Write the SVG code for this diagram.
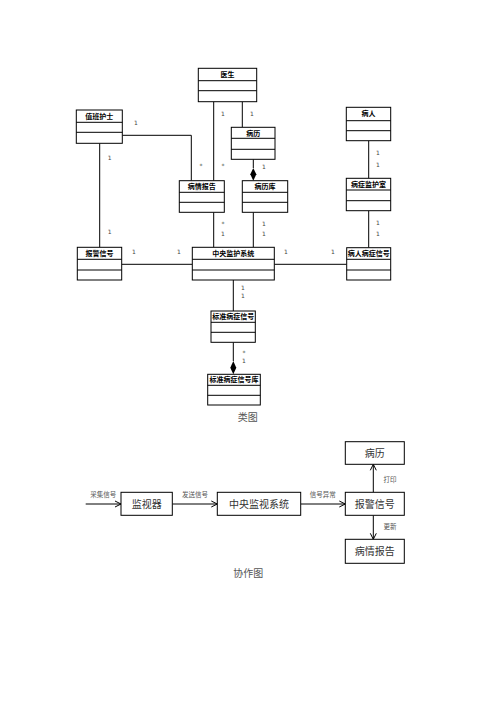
<svg xmlns="http://www.w3.org/2000/svg" width="496" height="702" viewBox="0 0 496 702">
<style>
.box{fill:#fff;stroke:#000;stroke-width:1}
.cl{stroke:#000;stroke-width:1;fill:none}
.t{font-family:"Noto Sans CJK SC",sans-serif;font-size:7px;font-weight:bold;fill:#000;text-anchor:middle}
.m{font-family:"DejaVu Sans",sans-serif;font-size:6px;fill:#444;text-anchor:middle}
.n{font-family:"Noto Sans CJK SC",sans-serif;font-size:10px;fill:#333;text-anchor:middle}
.s{font-family:"Noto Sans CJK SC",sans-serif;font-size:6.5px;fill:#555;text-anchor:middle}
.cap{font-family:"Noto Sans CJK SC",sans-serif;font-size:10px;fill:#555;text-anchor:middle}
</style>
<defs>
<marker id="arr" markerWidth="8" markerHeight="8" refX="7" refY="4" orient="auto" markerUnits="userSpaceOnUse">
<path d="M1,1 L7,4 L1,7" fill="none" stroke="#000" stroke-width="1"/>
</marker>
</defs>
<g id="connectors">
<path class="cl" d="M213.7,101.7 V180.7"/>
<path class="cl" d="M242.3,101.7 V127.3"/>
<path class="cl" d="M122.3,135.3 H191.3 V180.7"/>
<path class="cl" d="M99.7,143.3 V247.3"/>
<path class="cl" d="M253.3,159.3 V168"/>
<path d="M253.3,168 L256.3,174.3 L253.3,180.7 L250.3,174.3 Z" fill="#000"/>
<path class="cl" d="M368.7,140.7 V178.3"/>
<path class="cl" d="M213.7,212.3 V247.3"/>
<path class="cl" d="M253.3,212.3 V247.3"/>
<path class="cl" d="M368.7,210.7 V247.7"/>
<path class="cl" d="M121.7,264.3 H192.3"/>
<path class="cl" d="M274.3,264.3 H346.7"/>
<path class="cl" d="M233.3,280 V311"/>
<path class="cl" d="M233.3,342.3 V361"/>
<path d="M233.3,361 L236.3,367.7 L233.3,374.3 L230.3,367.7 Z" fill="#000"/>
<text class="m" x="223" y="116">1</text>
<text class="m" x="252" y="116">1</text>
<text class="m" x="136" y="125">1</text>
<text class="m" x="109.7" y="160">1</text>
<text class="m" x="201" y="168">*</text>
<text class="m" x="223" y="168">*</text>
<text class="m" x="264" y="169">1</text>
<text class="m" x="378" y="155">1</text>
<text class="m" x="378" y="167">1</text>
<text class="m" x="223" y="226">*</text>
<text class="m" x="223" y="236">1</text>
<text class="m" x="264" y="226">1</text>
<text class="m" x="264" y="236">1</text>
<text class="m" x="378" y="225">1</text>
<text class="m" x="378" y="236">1</text>
<text class="m" x="109.7" y="234">1</text>
<text class="m" x="134" y="254">1</text>
<text class="m" x="179" y="254">1</text>
<text class="m" x="286" y="254">1</text>
<text class="m" x="333" y="254">1</text>
<text class="m" x="243" y="290">1</text>
<text class="m" x="243" y="298">1</text>
<text class="m" x="244" y="355">*</text>
<text class="m" x="244" y="363">1</text>
<path class="cl" d="M85.7,504 H121" marker-end="url(#arr)"/>
<path class="cl" d="M172.3,504 H217.3" marker-end="url(#arr)"/>
<path class="cl" d="M300.7,504 H345.3" marker-end="url(#arr)"/>
<path class="cl" d="M373.3,492.3 V464.3" marker-end="url(#arr)"/>
<path class="cl" d="M373.3,515.3 V539.3" marker-end="url(#arr)"/>
<text class="s" x="103.3" y="496.5">采集信号</text>
<text class="s" x="195" y="496.5">发送信号</text>
<text class="s" x="322.7" y="496.5">信号异常</text>
<text class="s" x="390" y="481.5">打印</text>
<text class="s" x="390" y="529">更新</text>
</g>
<g id="doctor">
<rect class="box" x="198.3" y="68.3" width="58.4" height="33.4"/>
<path class="cl" d="M198.3,80.7 H256.7 M198.3,90.7 H256.7"/>
<text class="t" x="227.5" y="77">医生</text>
</g>
<g id="nurse">
<rect class="box" x="76.3" y="110" width="46" height="33.3"/>
<path class="cl" d="M76.3,122.3 H122.3 M76.3,132.3 H122.3"/>
<text class="t" x="99.3" y="118.8">值班护士</text>
</g>
<g id="record">
<rect class="box" x="231.3" y="127.3" width="43.7" height="32"/>
<path class="cl" d="M231.3,138.3 H275 M231.3,149.3 H275"/>
<text class="t" x="253.2" y="135.5">病历</text>
</g>
<g id="patient">
<rect class="box" x="346.3" y="107.3" width="44.4" height="33.4"/>
<path class="cl" d="M346.3,120.7 H390.7 M346.3,130.7 H390.7"/>
<text class="t" x="368.5" y="116.3">病人</text>
</g>
<g id="report">
<rect class="box" x="179.3" y="180.7" width="45" height="31.6"/>
<path class="cl" d="M179.3,192.3 H224.3 M179.3,202.3 H224.3"/>
<text class="t" x="201.8" y="189.3">病情报告</text>
</g>
<g id="recorddb">
<rect class="box" x="242.3" y="180.7" width="45.4" height="31.6"/>
<path class="cl" d="M242.3,192.3 H287.7 M242.3,202.3 H287.7"/>
<text class="t" x="265" y="189.3">病历库</text>
</g>
<g id="icu">
<rect class="box" x="346.3" y="178.3" width="44.4" height="32.4"/>
<path class="cl" d="M346.3,190 H390.7 M346.3,200.7 H390.7"/>
<text class="t" x="368.5" y="186.8">病症监护室</text>
</g>
<g id="alarm">
<rect class="box" x="77.3" y="247.3" width="44.4" height="32.7"/>
<path class="cl" d="M77.3,259.3 H121.7 M77.3,270 H121.7"/>
<text class="t" x="99.5" y="255.8">报警信号</text>
</g>
<g id="central">
<rect class="box" x="192.3" y="247.3" width="82" height="32.7"/>
<path class="cl" d="M192.3,259.3 H274.3 M192.3,270 H274.3"/>
<text class="t" x="233.3" y="255.8">中央监护系统</text>
</g>
<g id="patientsignal">
<rect class="box" x="346.7" y="247.7" width="44" height="32.3"/>
<path class="cl" d="M346.7,259.3 H390.7 M346.7,270 H390.7"/>
<text class="t" x="368.7" y="255.8">病人病症信号</text>
</g>
<g id="stdsignal">
<rect class="box" x="211" y="311" width="44.3" height="31.3"/>
<path class="cl" d="M211,322.3 H255.3 M211,332.3 H255.3"/>
<text class="t" x="233.2" y="319.3">标准病症信号</text>
</g>
<g id="stdsignaldb">
<rect class="box" x="207.7" y="374.3" width="52.6" height="30.7"/>
<path class="cl" d="M207.7,385.3 H260.3 M207.7,395.3 H260.3"/>
<text class="t" x="234" y="382.3">标准病症信号库</text>
</g>
<text class="cap" x="247.7" y="421">类图</text>
<g id="monitor">
<rect class="box" x="121" y="492.3" width="51.3" height="23"/>
<text class="n" x="146.7" y="507.5">监视器</text>
</g>
<g id="centralsys">
<rect class="box" x="217.3" y="492.3" width="83.4" height="23"/>
<text class="n" x="259" y="507.5">中央监视系统</text>
</g>
<g id="alarmsig">
<rect class="box" x="345.3" y="492.3" width="59" height="23"/>
<text class="n" x="374.8" y="507.5">报警信号</text>
</g>
<g id="record2">
<rect class="box" x="345.3" y="441.7" width="59" height="22.6"/>
<text class="n" x="374.8" y="456.5">病历</text>
</g>
<g id="report2">
<rect class="box" x="345.3" y="539.3" width="59" height="24"/>
<text class="n" x="374.8" y="554.8">病情报告</text>
</g>
<text class="cap" x="248.3" y="577">协作图</text>
</svg>
